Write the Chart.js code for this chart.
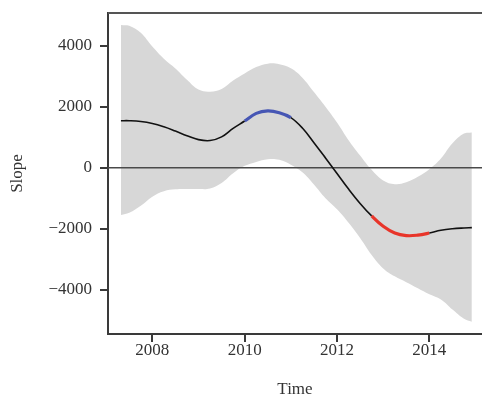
<!DOCTYPE html>
<html>
<head>
<meta charset="utf-8">
<script src="https://cdn.jsdelivr.net/npm/chart.js@4/dist/chart.umd.min.js"></script>
<style>
html,body{margin:0;padding:0;background:#fff;}
#wrap{width:482px;height:400px;position:relative;}
</style>
</head>
<body>
<div id="wrap"><canvas id="c" width="482" height="400"></canvas></div>
<script>
const times = [2007.32,2007.5,2007.75,2008,2008.25,2008.5,2008.75,2009,2009.25,2009.5,2009.75,2010,2010.25,2010.5,2010.75,2011,2011.25,2011.5,2011.75,2012,2012.25,2012.5,2012.75,2013,2013.25,2013.5,2013.75,2014,2014.25,2014.5,2014.75,2014.92];
const slope = [1540,1540,1515,1450,1340,1200,1050,920,890,1010,1290,1530,1780,1860,1800,1640,1300,820,320,-190,-700,-1170,-1580,-1920,-2140,-2225,-2210,-2140,-2050,-2000,-1975,-1965];
const upper = [4680,4650,4420,3970,3570,3250,2880,2560,2490,2580,2860,3090,3300,3410,3390,3260,2950,2480,2000,1480,900,400,-70,-420,-540,-480,-300,-50,300,800,1120,1150];
const lower = [-1550,-1480,-1250,-950,-770,-710,-700,-700,-680,-500,-180,60,190,280,260,100,-150,-550,-1000,-1360,-1800,-2300,-2860,-3300,-3560,-3750,-3950,-4150,-4320,-4650,-4950,-5050];
const xTicks = [2008,2010,2012,2014];
const yTicks = [-4000,-2000,0,2000,4000];
const blueRange = [2010,2011];
const redRange = [2012.75,2014];

const pts = arr => times.map((t,i)=>({x:t,y:arr[i]}));
const FONT = {family:'"Liberation Serif", "Times New Roman", serif', size:17};
const AX = '#3a3a3a';

const framePlugin = {
  id:'frame',
  beforeDatasetsDraw(chart){
    const {ctx, chartArea:a} = chart;
    ctx.save();
    ctx.strokeStyle = '#555';
    ctx.lineWidth = 2;
    ctx.beginPath(); ctx.moveTo(a.left, a.top); ctx.lineTo(a.right, a.top); ctx.stroke();
    ctx.restore();
  },
  beforeDatasetDraw(chart, args){
    if (args.index !== 0) return;
    const {ctx, chartArea:a, scales:{y}} = chart;
    const y0 = y.getPixelForValue(0);
    ctx.save();
    ctx.strokeStyle = '#4a4a4a';
    ctx.lineWidth = 1.6;
    ctx.beginPath(); ctx.moveTo(a.left, y0); ctx.lineTo(a.right, y0); ctx.stroke();
    ctx.restore();
  }
};

function segColor(ctx){
  const x0 = ctx.p0.parsed.x, x1 = ctx.p1.parsed.x;
  if (x0 >= blueRange[0] && x1 <= blueRange[1]) return '#4656b4';
  if (x0 >= redRange[0] && x1 <= redRange[1]) return '#e8352a';
  return '#111';
}
function segWidth(ctx){
  return segColor(ctx) === '#111' ? 1.6 : 3.2;
}

new Chart(document.getElementById('c'), {
  type:'line',
  data:{
    datasets:[
      {data:pts(slope), fill:false, borderColor:'#111', borderWidth:1.6, pointRadius:0, tension:0.4,
        segment:{borderColor:segColor, borderWidth:segWidth}},
      {data:pts(upper), fill:'+1', backgroundColor:'rgb(215,215,215)', borderWidth:0, pointRadius:0, tension:0.4},
      {data:pts(lower), fill:false, borderWidth:0, pointRadius:0, tension:0.4}
    ]
  },
  options:{
    responsive:false,
    animation:false,
    devicePixelRatio:1,
    layout:{padding:{top:13,right:0,left:0,bottom:0}},
    plugins:{legend:{display:false}, tooltip:{enabled:false}},
    scales:{
      x:{
        type:'linear', min:2007.04, max:2015.14,
        afterBuildTicks(s){ s.ticks = xTicks.map(v=>({value:v})); },
        afterFit(s){ s.height = 66; s.paddingLeft = 0; s.paddingRight = 0; },
        grid:{display:true, drawOnChartArea:false, drawTicks:true, tickLength:8, color:AX, lineWidth:2},
        border:{display:true, color:AX, width:2},
        ticks:{font:FONT, color:'#333', padding:-2, maxRotation:0, callback:v=>String(v)},
        title:{display:true, text:'Time', font:FONT, color:'#333', padding:{top:6,bottom:0}}
      },
      y:{
        type:'linear', min:-5450, max:5070,
        afterBuildTicks(s){ s.ticks = yTicks.map(v=>({value:v})); },
        afterFit(s){ s.width = 108; s.paddingTop = 0; s.paddingBottom = 0; },
        grid:{display:true, drawOnChartArea:false, drawTicks:true, tickLength:8, color:AX, lineWidth:2},
        border:{display:true, color:AX, width:2},
        ticks:{font:FONT, color:'#333', padding:8, callback:v=> v<0 ? '\u2212'+Math.abs(v) : String(v)},
        title:{display:true, text:'Slope', font:FONT, color:'#333', padding:{top:7,bottom:4}}
      }
    }
  },
  plugins:[framePlugin]
});
</script>
</body>
</html>
